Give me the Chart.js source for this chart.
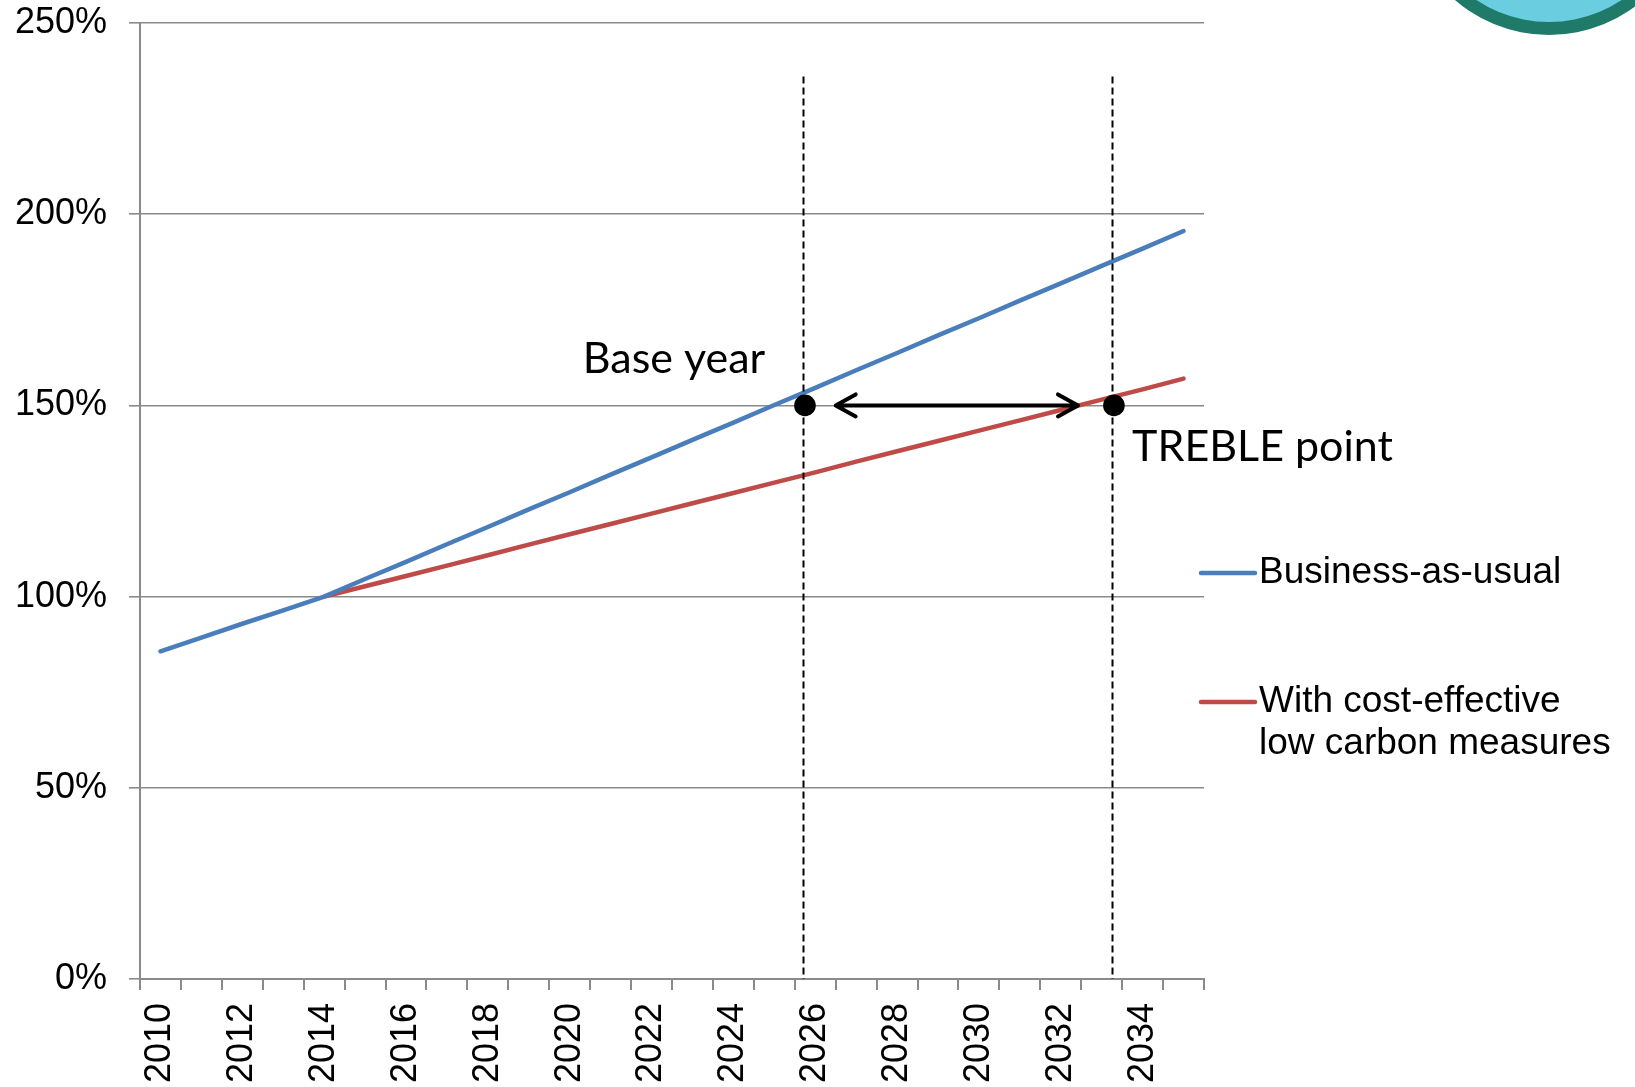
<!DOCTYPE html>
<html>
<head>
<meta charset="utf-8">
<script src="https://cdn.jsdelivr.net/npm/chart.js@4.4.1/dist/chart.umd.min.js"></script>
<style>
  html, body { margin: 0; padding: 0; background: #ffffff; }
  #c { display: block; }
</style>
</head>
<body>
<canvas id="c" width="1635" height="1087"></canvas>
<script>
// Years on the horizontal axis
const years = [2010, 2011, 2012, 2013, 2014, 2015, 2016, 2017, 2018, 2019, 2020, 2021, 2022,
               2023, 2024, 2025, 2026, 2027, 2028, 2029, 2030, 2031, 2032, 2033, 2034, 2035];

// Emissions relative to 2014 (%)
const businessAsUsual = [85.7, 89.3, 92.9, 96.4, 100.0, 104.6, 109.1, 113.7, 118.2, 122.8, 127.3,
                         131.9, 136.4, 141.0, 145.5, 150.1, 154.6, 159.2, 163.7, 168.3, 172.8,
                         177.4, 181.9, 186.5, 191.0, 195.6];
const lowCarbon = [null, null, null, null, 100.0, 102.7, 105.4, 108.1, 110.8, 113.6, 116.3,
                   119.0, 121.7, 124.4, 127.1, 129.8, 132.5, 135.3, 138.0, 140.7, 143.4,
                   146.1, 148.8, 151.5, 154.2, 157.0];

const seriesNames = ['Business-as-usual', 'With cost-effective low carbon measures'];
const legendLines = [['Business-as-usual'], ['With cost-effective', 'low carbon measures']];

// Value axis ticks (%)
const yTicks = [0, 50, 100, 150, 200, 250];

// Annotation positions (year, %)
const baseYear = 2025.7;
const treblePoint = 2033.25;
const markerLevel = 150;
const guideTop = 236;
const arrowFrom = 2026.5;
const arrowTo = 2032.42;
const baseYearLabel = { text: 'Base year', year: 2022.55, level: 158.4 };
const trebleLabel = { text: 'TREBLE point', year: 2036.93, level: 135.5 };

const BLUE = '#4a7ebb';
const RED = '#be4b48';
const GRID = '#8a8a8a';
const AXIS_FONT = '"Liberation Sans", Arial, sans-serif';
const NOTE_FONT = 'Lato, "Open Sans", sans-serif';

const overlay = {
  id: 'overlay',
  beforeDraw(chart) {
    const ctx = chart.ctx;
    ctx.save();
    ctx.fillStyle = '#ffffff';
    ctx.fillRect(0, 0, chart.width, chart.height);
    // corner badge
    ctx.beginPath();
    ctx.arc(1549, -109, 144, 0, Math.PI * 2);
    ctx.fillStyle = '#1f7a69';
    ctx.fill();
    ctx.beginPath();
    ctx.arc(1549, -109, 131, 0, Math.PI * 2);
    ctx.fillStyle = '#6bcde0';
    ctx.fill();
    ctx.restore();
  },
  afterDatasetsDraw(chart) {
    const { ctx, scales: { x, y } } = chart;
    const px = yr => x.getPixelForValue(yr - years[0]);
    const lvl = y.getPixelForValue(markerLevel);

    ctx.save();
    // dashed guides
    ctx.strokeStyle = '#000000';
    ctx.lineWidth = 2;
    ctx.setLineDash([7, 4]);
    [baseYear, treblePoint].forEach(yr => {
      const gx = Math.round(px(yr)) + 0.5;
      ctx.beginPath();
      ctx.moveTo(gx, y.getPixelForValue(guideTop));
      ctx.lineTo(gx, y.getPixelForValue(0));
      ctx.stroke();
    });
    ctx.setLineDash([]);

    // double-headed arrow
    const a1 = px(arrowFrom), a2 = px(arrowTo);
    ctx.lineWidth = 4;
    ctx.lineCap = 'round';
    ctx.lineJoin = 'round';
    ctx.beginPath();
    ctx.moveTo(a1, lvl);
    ctx.lineTo(a2, lvl);
    ctx.moveTo(a1 + 20, lvl - 11);
    ctx.lineTo(a1, lvl);
    ctx.lineTo(a1 + 20, lvl + 11);
    ctx.moveTo(a2 - 20, lvl - 11);
    ctx.lineTo(a2, lvl);
    ctx.lineTo(a2 - 20, lvl + 11);
    ctx.stroke();

    // points
    ctx.fillStyle = '#000000';
    [baseYear, treblePoint].forEach(yr => {
      ctx.beginPath();
      ctx.arc(px(yr) + 2, lvl, 10.8, 0, Math.PI * 2);
      ctx.fill();
    });

    // notes
    ctx.font = '43px ' + NOTE_FONT;
    ctx.textAlign = 'center';
    ctx.textBaseline = 'alphabetic';
    [baseYearLabel, trebleLabel].forEach(n => {
      ctx.fillText(n.text, px(n.year), y.getPixelForValue(n.level));
    });
    ctx.restore();
  },
  afterDraw(chart) {
    const { ctx, chartArea } = chart;
    const x0 = chartArea.right - 3;
    const rows = [[573], [702, 744]];
    ctx.save();
    ctx.font = '37px ' + AXIS_FONT;
    ctx.textAlign = 'left';
    ctx.textBaseline = 'middle';
    chart.data.datasets.forEach((ds, i) => {
      ctx.strokeStyle = ds.borderColor;
      ctx.lineWidth = 4.5;
      ctx.lineCap = 'round';
      ctx.beginPath();
      ctx.moveTo(x0, rows[i][0]);
      ctx.lineTo(x0 + 54, rows[i][0]);
      ctx.stroke();
      ctx.fillStyle = '#000000';
      legendLines[i].forEach((t, k) => ctx.fillText(t, x0 + 58, rows[i][k]));
    });
    ctx.restore();
  }
};

new Chart(document.getElementById('c'), {
  type: 'line',
  data: {
    labels: years,
    datasets: [
      { label: seriesNames[0], data: businessAsUsual, borderColor: BLUE, backgroundColor: BLUE,
        borderWidth: 4.5, pointRadius: 0, tension: 0, borderCapStyle: 'round', fill: false },
      { label: seriesNames[1], data: lowCarbon, borderColor: RED, backgroundColor: RED,
        borderWidth: 4.5, pointRadius: 0, tension: 0, borderCapStyle: 'round', fill: false }
    ]
  },
  options: {
    responsive: false,
    animation: false,
    devicePixelRatio: 1,
    layout: { padding: { top: 23, right: 431, left: 0, bottom: 0 } },
    plugins: { legend: { display: false }, tooltip: { enabled: false } },
    scales: {
      x: {
        type: 'category',
        offset: true,
        grid: { offset: true, drawOnChartArea: false, drawTicks: true, tickLength: 11,
                color: GRID, lineWidth: 2 },
        border: { display: true, color: GRID, width: 2 },
        ticks: {
          autoSkip: false, minRotation: 90, maxRotation: 90, padding: 13,
          color: '#000000', font: { family: AXIS_FONT, size: 36 },
          callback: (v, i) => (i % 2 === 0 ? String(years[i]) : '')
        },
        afterFit: s => { s.height = 108; }
      },
      y: {
        min: 0, max: 250,
        afterBuildTicks: s => { s.ticks = yTicks.map(v => ({ value: v })); },
        grid: { drawTicks: true, tickLength: 11, color: GRID, lineWidth: 1.6 },
        border: { display: true, color: GRID, width: 2 },
        ticks: { padding: 22, color: '#000000', font: { family: AXIS_FONT, size: 36 },
                 callback: v => v + '%' },
        afterFit: s => { s.width = 140; s.paddingTop = 0; s.paddingBottom = 0; }
      }
    }
  },
  plugins: [overlay]
});
</script>
</body>
</html>
